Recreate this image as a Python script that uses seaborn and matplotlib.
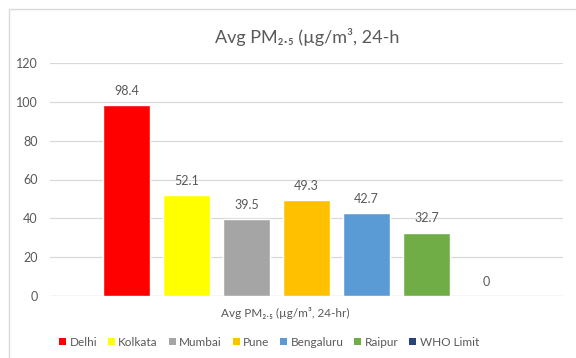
import matplotlib
matplotlib.use("Agg")
import matplotlib.pyplot as plt
from matplotlib.lines import Line2D
from matplotlib.patches import Patch
import seaborn as sns
import pandas as pd

cities = ["Delhi", "Kolkata", "Mumbai", "Pune", "Bengaluru", "Raipur", "WHO Limit"]
values = [98.4, 52.1, 39.5, 49.3, 42.7, 32.7, 0]
colors = ["#FF0000", "#FFFF00", "#A5A5A5", "#FFC000", "#5B9BD5", "#70AD47", "#264478"]
category_label = "Avg PM\u2082.\u2085 (\u00b5g/m\u00b3, 24-hr)"
title = "Avg PM\u2082.\u2085 (\u00b5g/m\u00b3, 24-h"
yticks = [0, 20, 40, 60, 80, 100, 120]

sns.set_theme(style="white")
plt.rcParams["font.family"] = ["Lato", "DejaVu Sans"]
TXT = "#595959"

df = pd.DataFrame({"city": cities, "value": values})

fig = plt.figure(figsize=(5.76, 3.58), dpi=100)
W, H = 576, 358
ax = fig.add_axes([50 / W, 1 - 296 / H, (563 - 50) / W, (296 - 63) / H])

sns.barplot(data=df, x="city", y="value", hue="city", palette=colors,
            width=47 / 60, legend=False, ax=ax, saturation=1)

ax.set_xlim(-1.275, 7.275)
ax.set_ylim(0, 120)
ax.set_yticks(yticks)
ax.set_yticklabels([str(t) for t in yticks], color=TXT, fontsize=9)
ax.tick_params(axis="y", length=0, pad=9)
ax.set_xticks([])
ax.set_xlabel("")
ax.set_ylabel("")
ax.grid(axis="y", color="#D9D9D9", linewidth=0.9)
ax.set_axisbelow(True)
for s in ax.spines.values():
    s.set_visible(False)
ax.axhline(0, color="#D9D9D9", linewidth=0.9, zorder=0.5)

for p, v in zip(ax.patches, values):
    x = p.get_x() + p.get_width() / 2
    ax.annotate(f"{v:g}", (x, p.get_height()), xytext=(0, 6), textcoords="offset points",
                ha="center", va="bottom", color=TXT, fontsize=9)

fig.text(285 / W, 1 - 313 / H, category_label, ha="center", va="center",
         color=TXT, fontsize=8.5)
fig.text(307 / W, 1 - 37 / H, title, ha="center", va="center",
         color=TXT, fontsize=13)

handles = [Patch(facecolor=c, edgecolor="none") for c in colors]
leg = fig.legend(handles, cities, loc="center", bbox_to_anchor=(269 / W, 1 - 342 / H),
                 ncol=7, frameon=False, fontsize=8.5, handlelength=0.6, handleheight=0.6,
                 handletextpad=0.3, columnspacing=0.9)
for t in leg.get_texts():
    t.set_color(TXT)

fig.add_artist(Line2D([9 / W, 1], [1 - 9 / H, 1 - 9 / H], color="#D9D9D9", linewidth=1.0,
                      transform=fig.transFigure))
fig.add_artist(Line2D([9 / W, 9 / W], [0, 1 - 9 / H], color="#D9D9D9", linewidth=1.0,
                      transform=fig.transFigure))

fig.savefig("out.png", dpi=100)
